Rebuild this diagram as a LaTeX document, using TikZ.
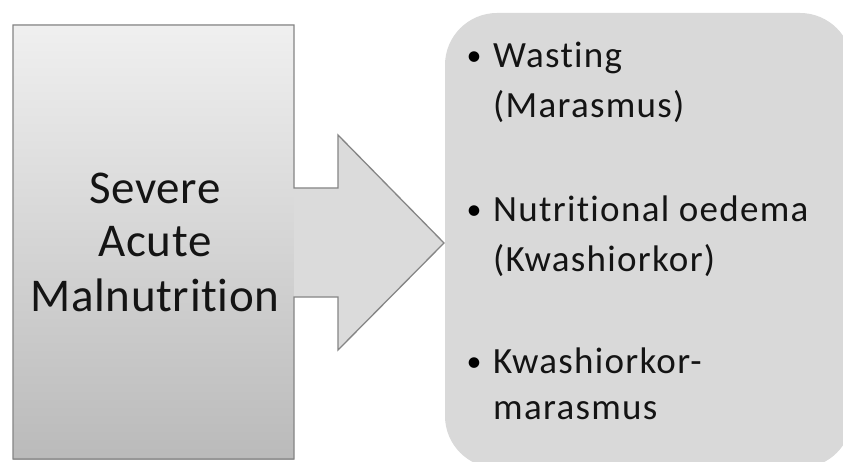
\documentclass[tikz,border=0pt]{standalone}
\usepackage{fontspec}
\setmainfont{Carlito}[Ligatures={NoCommon,NoRequired,NoContextual}]
\begin{document}
\begin{tikzpicture}[x=1pt,y=-1pt,
  lefttxt/.style={anchor=base,inner sep=0pt,text=black!92,font=\fontsize{47}{54}\selectfont\addfontfeatures{LetterSpace=1.5}},
  righttxt/.style={anchor=base west,inner sep=0pt,text=black!92,font=\fontsize{37}{49}\selectfont\addfontfeatures{LetterSpace=3.5}},
  bullettxt/.style={anchor=base,inner sep=0pt,text=black,font=\fontsize{30}{36}\selectfont}]
\useasboundingbox (0,0) rectangle (843,462);
\fill[white] (0,0) rectangle (843,462);
% right rounded panel
\fill[gray!30!white, rounded corners=52pt] (445,13) rectangle (852,468);
\node[inner sep=0pt] (panel) at (648,240) {};
% left box with gradient
\shade[top color=black!6, bottom color=black!27] (13,25) rectangle (294,459);
\node[inner sep=0pt] (box) at (153,242) {};
% arrow
\fill[black!14] (294,188) -- (338,188) -- (338,135) -- (444,243) -- (338,350) -- (338,297) -- (294,297) -- cycle;
\draw[black!48, line width=1.3pt, line join=miter]
  (13,25) -- (294,25) -- (294,188) -- (338,188) -- (338,135) -- (444,243)
  -- (338,350) -- (338,297) -- (294,297) -- (294,459) -- (13,459) -- cycle;
% left text
\node[lefttxt] (l1) at (155,204) {Severe};
\node[lefttxt] (l2) at (155,257) {Acute};
\node[lefttxt] (l3) at (155,312) {Malnutrition};
% right items
\node[bullettxt] (b1) at (474,66) {•};
\node[righttxt] (r1a) at (493,68) {Wasting};
\node[righttxt] (r1b) at (493,118) {(Marasmus)};
\node[bullettxt] (b2) at (474,220) {•};
\node[righttxt] (r2a) at (493,222) {Nutritional oedema};
\node[righttxt] (r2b) at (493,272) {(Kwashiorkor)};
\node[bullettxt] (b3) at (474,371) {•};
\node[righttxt] (r3a) at (493,373) {Kwashiorkor-};
\node[righttxt] (r3b) at (493,419) {marasmus};
\end{tikzpicture}
\end{document}
